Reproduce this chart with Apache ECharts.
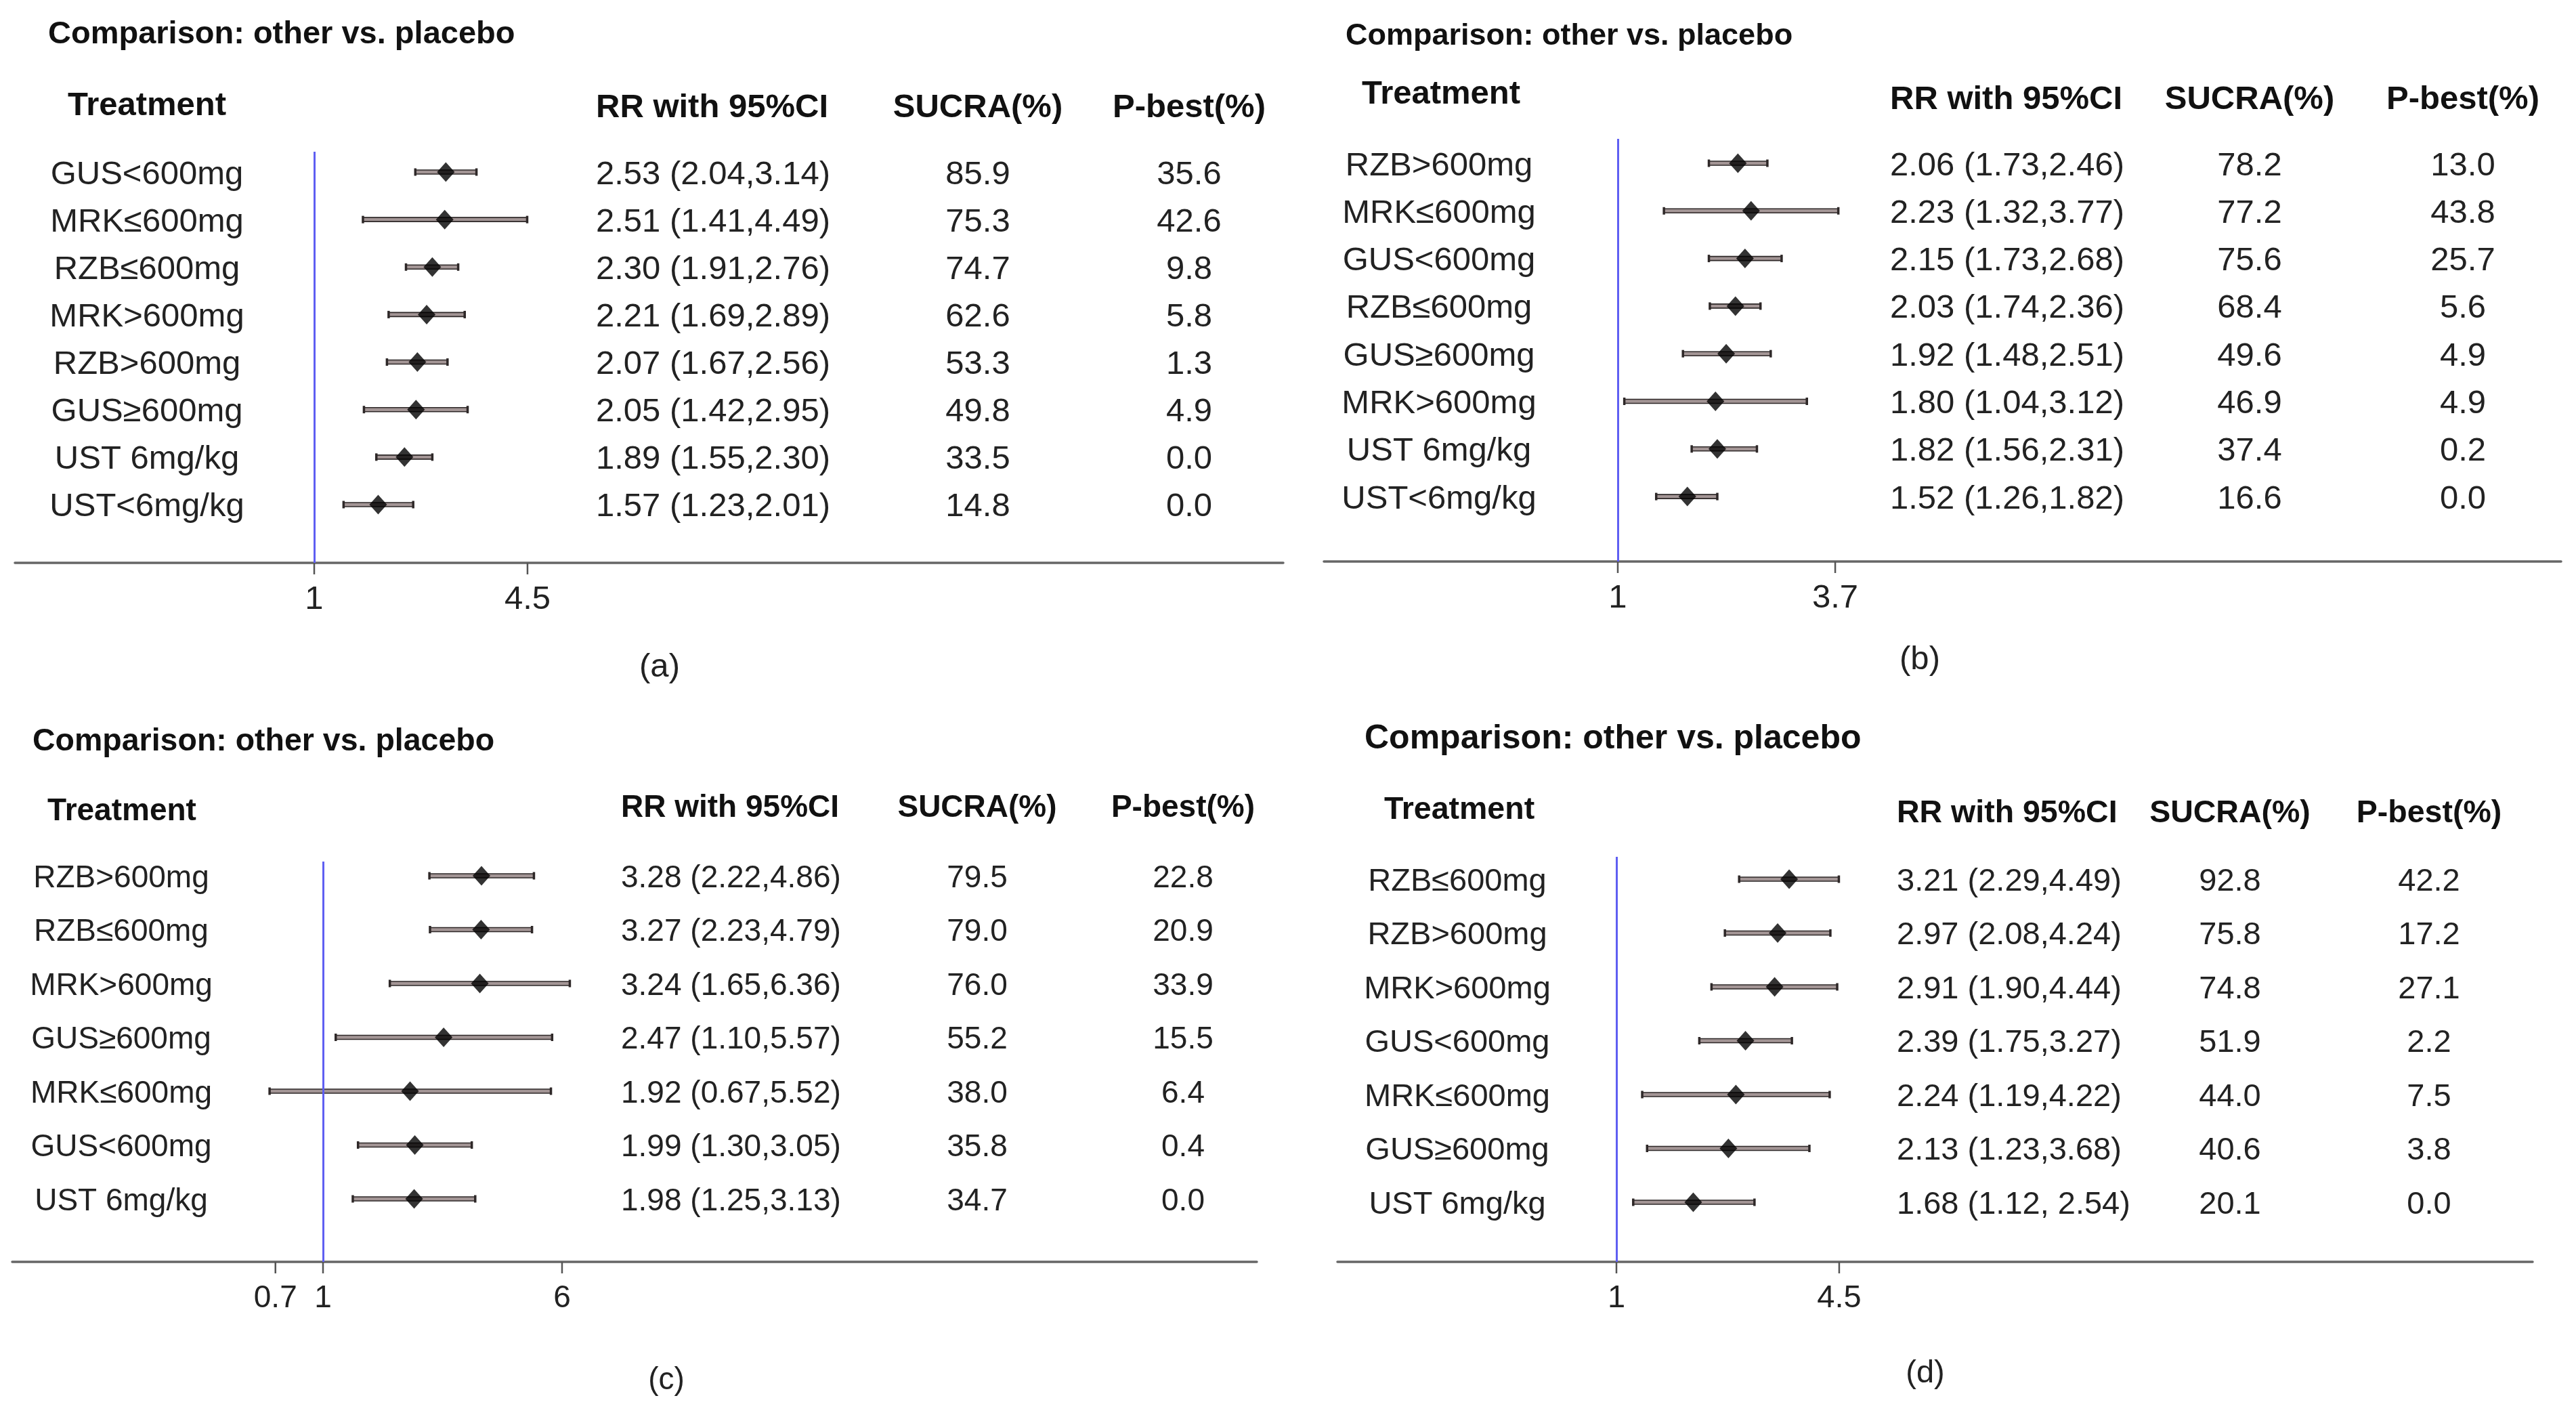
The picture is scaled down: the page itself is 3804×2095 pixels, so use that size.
<!DOCTYPE html>
<html><head><meta charset="utf-8">
<script src="https://cdn.jsdelivr.net/npm/echarts@6/dist/echarts.min.js"></script>
<style>html,body{margin:0;padding:0;background:#fff}#c{width:3804px;height:2095px}</style>
</head><body><div id="c"></div>
<script>
// ---------------- DATA ----------------
const aTreatments = ['GUS<600mg','MRK≤600mg','RZB≤600mg','MRK>600mg','RZB>600mg','GUS≥600mg','UST 6mg/kg','UST<6mg/kg'];
const aRR    = [2.53, 2.51, 2.30, 2.21, 2.07, 2.05, 1.89, 1.57];
const aLow   = [2.04, 1.41, 1.91, 1.69, 1.67, 1.42, 1.55, 1.23];
const aHigh  = [3.14, 4.49, 2.76, 2.89, 2.56, 2.95, 2.30, 2.01];
const aCI    = ['2.53 (2.04,3.14)','2.51 (1.41,4.49)','2.30 (1.91,2.76)','2.21 (1.69,2.89)','2.07 (1.67,2.56)','2.05 (1.42,2.95)','1.89 (1.55,2.30)','1.57 (1.23,2.01)'];
const aSucra = [85.9, 75.3, 74.7, 62.6, 53.3, 49.8, 33.5, 14.8];
const aPbest = [35.6, 42.6, 9.8, 5.8, 1.3, 4.9, 0.0, 0.0];
const aTicks = [1, 4.5];

const bTreatments = ['RZB>600mg','MRK≤600mg','GUS<600mg','RZB≤600mg','GUS≥600mg','MRK>600mg','UST 6mg/kg','UST<6mg/kg'];
const bRR    = [2.06, 2.23, 2.15, 2.03, 1.92, 1.80, 1.82, 1.52];
const bLow   = [1.73, 1.32, 1.73, 1.74, 1.48, 1.04, 1.56, 1.26];
const bHigh  = [2.46, 3.77, 2.68, 2.36, 2.51, 3.12, 2.31, 1.82];
const bCI    = ['2.06 (1.73,2.46)','2.23 (1.32,3.77)','2.15 (1.73,2.68)','2.03 (1.74,2.36)','1.92 (1.48,2.51)','1.80 (1.04,3.12)','1.82 (1.56,2.31)','1.52 (1.26,1.82)'];
const bSucra = [78.2, 77.2, 75.6, 68.4, 49.6, 46.9, 37.4, 16.6];
const bPbest = [13.0, 43.8, 25.7, 5.6, 4.9, 4.9, 0.2, 0.0];
const bTicks = [1, 3.7];

const cTreatments = ['RZB>600mg','RZB≤600mg','MRK>600mg','GUS≥600mg','MRK≤600mg','GUS<600mg','UST 6mg/kg'];
const cRR    = [3.28, 3.27, 3.24, 2.47, 1.92, 1.99, 1.98];
const cLow   = [2.22, 2.23, 1.65, 1.10, 0.67, 1.30, 1.25];
const cHigh  = [4.86, 4.79, 6.36, 5.57, 5.52, 3.05, 3.13];
const cCI    = ['3.28 (2.22,4.86)','3.27 (2.23,4.79)','3.24 (1.65,6.36)','2.47 (1.10,5.57)','1.92 (0.67,5.52)','1.99 (1.30,3.05)','1.98 (1.25,3.13)'];
const cSucra = [79.5, 79.0, 76.0, 55.2, 38.0, 35.8, 34.7];
const cPbest = [22.8, 20.9, 33.9, 15.5, 6.4, 0.4, 0.0];
const cTicks = [0.7, 1, 6];

const dTreatments = ['RZB≤600mg','RZB>600mg','MRK>600mg','GUS<600mg','MRK≤600mg','GUS≥600mg','UST 6mg/kg'];
const dRR    = [3.21, 2.97, 2.91, 2.39, 2.24, 2.13, 1.68];
const dLow   = [2.29, 2.08, 1.90, 1.75, 1.19, 1.23, 1.12];
const dHigh  = [4.49, 4.24, 4.44, 3.27, 4.22, 3.68, 2.54];
const dCI    = ['3.21 (2.29,4.49)','2.97 (2.08,4.24)','2.91 (1.90,4.44)','2.39 (1.75,3.27)','2.24 (1.19,4.22)','2.13 (1.23,3.68)','1.68 (1.12, 2.54)'];
const dSucra = [92.8, 75.8, 74.8, 51.9, 44.0, 40.6, 20.1];
const dPbest = [42.2, 17.2, 27.1, 2.2, 7.5, 3.8, 0.0];
const dTicks = [1, 4.5];

const titleText = 'Comparison: other vs. placebo';
const headers = ['Treatment', 'RR with 95%CI', 'SUCRA(%)', 'P-best(%)'];
const captions = ['(a)', '(b)', '(c)', '(d)'];

// ---------------- LAYOUT (pixels) ----------------
const layouts = [
  {axisL:22, axisR:1895, axisY:831, top:224, x1:464, k:209.4, row0:254, step:70.14, fs:49, hfs:49, titleFs:47, title:[71,51], treatHdr:[217,156], hdrY:159, namesX:217, rrX:880, sucraX:1444, pbestX:1756, cap:[974,985]},
  {axisL:1955, axisR:3782, axisY:829, top:205, x1:2389, k:245.4, row0:241, step:70.3, fs:49, hfs:49, titleFs:45, title:[1987,54], treatHdr:[2128,139], hdrY:147, namesX:2125, rrX:2791, sucraX:3322, pbestX:3637, cap:[2835,974]},
  {axisL:18, axisR:1856, axisY:1863, top:1272, x1:477, k:197, row0:1293, step:79.5, fs:46, hfs:46, titleFs:46.5, title:[48,1095], treatHdr:[180,1198], hdrY:1193, namesX:179, rrX:917, sucraX:1443, pbestX:1747, cap:[984,2038]},
  {axisL:1975, axisR:3740, axisY:1863, top:1265, x1:2387, k:218.7, row0:1298, step:79.5, fs:47, hfs:46.5, titleFs:50, title:[2015,1091], treatHdr:[2155,1196], hdrY:1201, namesX:2152, rrX:2801, sucraX:3293, pbestX:3587, cap:[2843,2028]}
];

const panels = [
  {names:aTreatments, rr:aRR, lo:aLow, hi:aHigh, ci:aCI, sucra:aSucra, pbest:aPbest, ticks:aTicks},
  {names:bTreatments, rr:bRR, lo:bLow, hi:bHigh, ci:bCI, sucra:bSucra, pbest:bPbest, ticks:bTicks},
  {names:cTreatments, rr:cRR, lo:cLow, hi:cHigh, ci:cCI, sucra:cSucra, pbest:cPbest, ticks:cTicks},
  {names:dTreatments, rr:dRR, lo:dLow, hi:dHigh, ci:dCI, sucra:dSucra, pbest:dPbest, ticks:dTicks}
];

const FONT = '"Liberation Sans", Arial, Helvetica, sans-serif';
const TEXT_COLOR = '#222';
const BAR_FILL = '#a39595';
const BAR_EDGE = '#2e2828';
const TEXT_DY = 4;

const grid = [], xAxis = [], yAxis = [], series = [], graphic = [];

panels.forEach((p, i) => {
  const L = layouts[i];
  const yMin = (L.top - L.row0) / L.step;
  const yMax = (L.axisY - L.row0) / L.step;
  grid.push({left: L.axisL, top: L.top, width: L.axisR - L.axisL, height: L.axisY - L.top});
  // log axis for the forest plot
  xAxis.push({
    type: 'log', logBase: 10, gridIndex: i,
    min: Math.exp((L.axisL - L.x1) / L.k),
    max: Math.exp((L.axisR - L.x1) / L.k),
    axisLine: {show: true, onZero: false, lineStyle: {color: '#666', width: 3.5}},
    axisTick: {show: false}, axisLabel: {show: false}, splitLine: {show: false}, minorTick: {show: false}
  });
  // hidden linear axis in page pixels for the text columns
  xAxis.push({type: 'value', gridIndex: i, min: L.axisL, max: L.axisR, show: false});
  yAxis.push({type: 'value', gridIndex: i, inverse: true, min: yMin, max: yMax, show: false});

  const xLog = 2 * i, xTxt = 2 * i + 1;
  const rows = p.rr.map((_, r) => r);

  // confidence intervals
  series.push({
    type: 'custom', xAxisIndex: xLog, yAxisIndex: i, z: 3, clip: false,
    data: rows.map(r => [p.lo[r], p.hi[r], r]),
    encode: {x: [0, 1], y: 2},
    renderItem: (params, api) => {
      const a = api.coord([api.value(0), api.value(2)]);
      const b = api.coord([api.value(1), api.value(2)]);
      const h = 6, cap = 11, cw = 3.5;
      return {type: 'group', children: [
        {type: 'rect', shape: {x: a[0], y: a[1] - h / 2, width: b[0] - a[0], height: h}, style: {fill: BAR_FILL, stroke: BAR_EDGE, lineWidth: 1.6}},
        {type: 'rect', shape: {x: a[0] - cw / 2, y: a[1] - cap / 2, width: cw, height: cap}, style: {fill: BAR_EDGE}},
        {type: 'rect', shape: {x: b[0] - cw / 2, y: b[1] - cap / 2, width: cw, height: cap}, style: {fill: BAR_EDGE}}
      ]};
    },
    markLine: {
      silent: true, symbol: 'none', animation: false,
      label: {show: false},
      lineStyle: {color: '#5f5ff2', width: 3, type: 'solid'},
      data: [{xAxis: 1}]
    }
  });

  // point estimates
  series.push({
    type: 'scatter', xAxisIndex: xLog, yAxisIndex: i, z: 5,
    symbol: 'diamond', symbolSize: [26, 29],
    itemStyle: {color: '#000'},
    data: rows.map(r => [p.rr[r], r])
  });

  // axis ticks and labels
  series.push({
    type: 'custom', xAxisIndex: xLog, yAxisIndex: i, z: 4, clip: false,
    data: p.ticks.map(t => [t, yMax]),
    encode: {x: 0, y: 1},
    renderItem: (params, api) => {
      const pt = api.coord([api.value(0), api.value(1)]);
      return {type: 'group', children: [
        {type: 'line', shape: {x1: pt[0], y1: pt[1], x2: pt[0], y2: pt[1] + 17}, style: {stroke: '#555', lineWidth: 2.5}},
        {type: 'text', x: pt[0], y: pt[1] + 54, style: {text: String(p.ticks[params.dataIndex]), fill: TEXT_COLOR, font: `${L.fs}px ${FONT}`, textAlign: 'center', textVerticalAlign: 'middle'}}
      ]};
    }
  });

  // text columns
  const textColumn = (colX, texts, align) => ({
    type: 'custom', xAxisIndex: xTxt, yAxisIndex: i, z: 4, clip: false,
    data: rows.map(r => [colX, r]),
    encode: {x: 0, y: 1},
    renderItem: (params, api) => {
      const pt = api.coord([api.value(0), api.value(1)]);
      return {type: 'text', x: pt[0], y: pt[1] + TEXT_DY, style: {text: texts[params.dataIndex], fill: TEXT_COLOR, font: `${L.fs}px ${FONT}`, textAlign: align, textVerticalAlign: 'middle'}};
    }
  });
  series.push(textColumn(L.namesX, p.names, 'center'));
  series.push(textColumn(L.rrX, p.ci, 'left'));
  series.push(textColumn(L.sucraX, p.sucra.map(v => v.toFixed(1)), 'center'));
  series.push(textColumn(L.pbestX, p.pbest.map(v => v.toFixed(1)), 'center'));

  // titles, headers, caption
  const boldFont = s => `bold ${s}px ${FONT}`;
  graphic.push({type: 'text', x: L.title[0], y: L.title[1], style: {text: titleText, font: boldFont(L.titleFs), fill: '#111', textAlign: 'left', textVerticalAlign: 'middle'}});
  graphic.push({type: 'text', x: L.treatHdr[0], y: L.treatHdr[1], style: {text: headers[0], font: boldFont(L.hfs), fill: '#111', textAlign: 'center', textVerticalAlign: 'middle'}});
  graphic.push({type: 'text', x: L.rrX, y: L.hdrY, style: {text: headers[1], font: boldFont(L.hfs), fill: '#111', textAlign: 'left', textVerticalAlign: 'middle'}});
  graphic.push({type: 'text', x: L.sucraX, y: L.hdrY, style: {text: headers[2], font: boldFont(L.hfs), fill: '#111', textAlign: 'center', textVerticalAlign: 'middle'}});
  graphic.push({type: 'text', x: L.pbestX, y: L.hdrY, style: {text: headers[3], font: boldFont(L.hfs), fill: '#111', textAlign: 'center', textVerticalAlign: 'middle'}});
  graphic.push({type: 'text', x: L.cap[0], y: L.cap[1], style: {text: captions[i], font: `${L.fs}px ${FONT}`, fill: TEXT_COLOR, textAlign: 'center', textVerticalAlign: 'middle'}});
});

const chart = echarts.init(document.getElementById('c'), null, {renderer: 'canvas'});
chart.setOption({
  animation: false,
  backgroundColor: '#fff',
  textStyle: {fontFamily: FONT},
  grid, xAxis, yAxis, series, graphic
});
</script></body></html>
